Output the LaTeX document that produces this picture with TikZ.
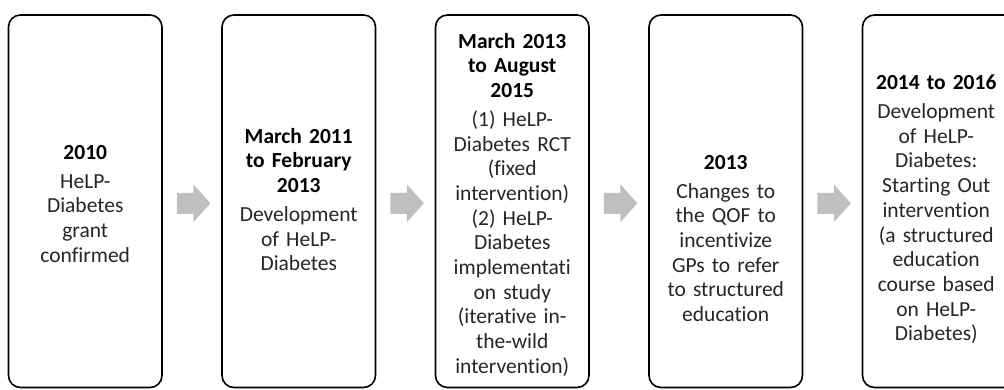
\documentclass[tikz,border=0pt]{standalone}
\usepackage{fontspec}
\setmainfont{Carlito}[Ligatures={NoCommon}]
\usetikzlibrary{calc}
\tikzset{
  stagebox/.style={draw=black, line width=1.6pt, rounded corners=12pt, minimum width=153.5pt, minimum height=372.5pt, inner sep=0pt, fill=white},
  stagetext/.style={anchor=north, inner sep=0pt, align=center, text width=150pt, font=\fontsize{21.5}{24.7}\selectfont, text=black!85},
  arrowfill/.style={fill=black!25, draw=none}
}
\newcommand{\hdr}[1]{\textbf{\color{black}#1}}
\newcommand{\blockarr}[1]{%
  \fill[arrowfill] ([shift={(14,-8.5)}]#1.east) -- ++(16.5,0) -- ++(0,-8.5) -- ++(17,19) -- ++(-17,19) -- ++(0,-8.5) -- ++(-16.5,0) -- cycle;}
\begin{document}
\begin{tikzpicture}[x=1pt,y=-1pt]
\useasboundingbox (0,0) rectangle (1004,389);
\clip (0,0) rectangle (1004,389);
\node[stagebox] (b1) at (85.25,201.25) {};
\node[stagebox] (b2) at (298.75,201.25) {};
\node[stagebox] (b3) at (512.25,201.25) {};
\node[stagebox] (b4) at (725.75,201.25) {};
\node[stagebox] (b5) at (939.25,201.25) {};
\blockarr{b1}
\blockarr{b2}
\blockarr{b3}
\blockarr{b4}
\node[stagetext] (t1) at (b1.center |- 0,145) {\hdr{2010}\\[4pt]HeLP-\\Diabetes\\grant\\confirmed};
\node[stagetext] (t2) at (b2.center |- 0,128) {\hdr{March 2011}\\\hdr{to February}\\\hdr{2013}\\[4pt]Development\\of HeLP-\\Diabetes};
\node[stagetext] (t3) at (b3.center |- 0,33) {\hdr{March 2013}\\\hdr{to August}\\\hdr{2015}\\[4pt](1) HeLP-\\Diabetes RCT\\(fixed\\intervention)\\(2) HeLP-\\Diabetes\\implementati\\on study\\(iterative in-\\the-wild\\intervention)};
\node[stagetext] (t4) at (b4.center |- 0,155) {\hdr{2013}\\[4pt]Changes to\\the QOF to\\incentivize\\GPs to refer\\to structured\\education};
\node[stagetext] (t5) at ([xshift=-3pt]b5.center |- 0,75) {\hdr{2014 to 2016}\\[4pt]Development\\of HeLP-\\Diabetes:\\Starting Out\\intervention\\(a structured\\education\\course based\\on HeLP-\\Diabetes)};
\end{tikzpicture}
\end{document}
